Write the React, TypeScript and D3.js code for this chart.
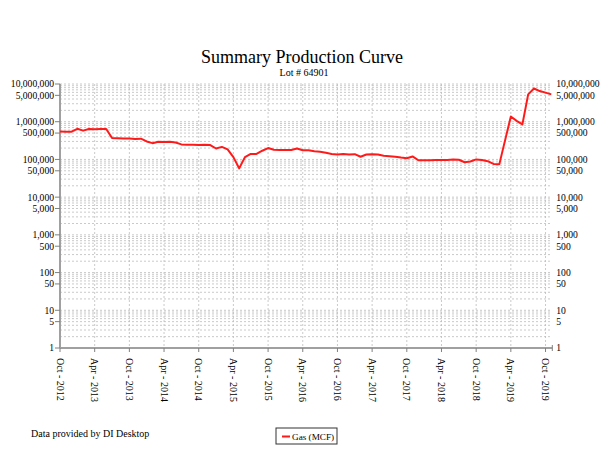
import React from "react";
import * as d3 from "d3";

const startMonth = new Date(2012, 9, 1); // Oct 2012
const gasValues: number[] = [
  550000, 540000, 545000, 650000, 580000, 640000, 630000, 640000, 640000, 370000,
  365000, 360000, 360000, 350000, 355000, 300000, 270000, 295000, 290000, 295000,
  280000, 250000, 245000, 245000, 240000, 245000, 240000, 195000, 215000, 185000,
  115000, 58000, 115000, 140000, 140000, 170000, 200000, 180000, 178000, 178000,
  178000, 195000, 175000, 175000, 165000, 160000, 150000, 140000, 135000, 140000,
  135000, 138000, 118000, 135000, 138000, 135000, 125000, 122000, 118000, 112000,
  108000, 120000, 95000, 95000, 95000, 97000, 97000, 97000, 99000, 98000,
  84000, 88000, 100000, 96000, 90000, 76000, 74000, 320000, 1370000, 1050000,
  850000, 5300000, 7600000, 6500000, 5900000, 5300000,
];
const tickLabels: string[] = [
  "Oct - 2012", "Apr - 2013", "Oct - 2013", "Apr - 2014", "Oct - 2014",
  "Apr - 2015", "Oct - 2015", "Apr - 2016", "Oct - 2016", "Apr - 2017",
  "Oct - 2017", "Apr - 2018", "Oct - 2018", "Apr - 2019", "Oct - 2019",
];
const yLabelValues: number[] = [
  10000000, 5000000, 1000000, 500000, 100000, 50000, 10000, 5000, 1000, 500, 100, 50, 10, 5, 1,
];

const W = 610, H = 468;
const left = 60, right = 551.3, top = 84, bottom = 348;
const FONT = "'Liberation Serif', 'Times New Roman', serif";

export default function App() {
  const dates = gasValues.map((_, i) => d3.timeMonth.offset(startMonth, i));
  const x = d3.scaleLinear().domain([0, gasValues.length - 1]).range([left, right]);
  const y = d3.scaleLog().domain([1, 10000000]).range([bottom, top]);
  const line = d3.line<number>().x((_, i) => x(i)).y((v) => y(v));
  const minor: number[] = [];
  for (let e = 0; e < 7; e++) for (let m = 1; m <= 9; m++) minor.push(m * Math.pow(10, e));
  minor.push(10000000);
  const tickIdx = tickLabels.map((_, k) => k * 6);
  const fmt = d3.format(",");
  return (
    <svg width={W} height={H} style={{ position: "absolute", left: 0, top: 0, background: "#fff" }} fontFamily={FONT}>
      <text x={302} y={63} textAnchor="middle" fontSize={18}>Summary Production Curve</text>
      <text x={304} y={76} textAnchor="middle" fontSize={10}>Lot # 64901</text>
      {minor.map((v, i) => (
        <line key={"h" + i} x1={left} x2={right} y1={y(v)} y2={y(v)} stroke="#bdbdbd" strokeWidth={0.8} strokeDasharray="2,2" />
      ))}
      {tickIdx.map((t, i) => (
        <line key={"v" + i} x1={x(t)} x2={x(t)} y1={top} y2={bottom} stroke="#bdbdbd" strokeWidth={0.8} strokeDasharray="2,2" />
      ))}
      <line x1={left} x2={left} y1={top} y2={bottom} stroke="#a0a0a0" strokeWidth={2} />
      <line x1={left} x2={right + 1} y1={bottom} y2={bottom} stroke="#a0a0a0" strokeWidth={2} />
      <line x1={right + 1} x2={right + 1} y1={bottom - 3} y2={bottom + 3} stroke="#808080" />
      {yLabelValues.map((v, i) => (
        <g key={"yl" + i}>
          <line x1={left - 5} x2={left} y1={y(v)} y2={y(v)} stroke="#808080" />
          <text x={left - 6} y={y(v)} dy="0.35em" textAnchor="end" fontSize={9.6}>{fmt(v)}</text>
          <text x={right + 5} y={y(v)} dy="0.35em" textAnchor="start" fontSize={9.6}>{fmt(v)}</text>
        </g>
      ))}
      {tickIdx.map((t, i) => (
        <g key={"xl" + i}>
          <line x1={x(t)} x2={x(t)} y1={bottom} y2={bottom + 4} stroke="#808080" />
          <text transform={`translate(${x(t)},${bottom + 10}) rotate(90)`} dy="0.35em" fontSize={10}>{tickLabels[i]}</text>
        </g>
      ))}
      <path d={line(gasValues) || ""} fill="none" stroke="#ff1a1a" strokeWidth={2} strokeLinejoin="round" />
      <text x={31} y={437} fontSize={10}>Data provided by DI Desktop</text>
      <rect x={276} y={428} width={61} height={16} fill="#fff" stroke="#333" strokeWidth={1} />
      <line x1={282} x2={290} y1={436.5} y2={436.5} stroke="#ff1a1a" strokeWidth={2} />
      <text x={292} y={440} fontSize={9.2}>Gas (MCF)</text>
      <desc>{dates.length}</desc>
    </svg>
  );
}
